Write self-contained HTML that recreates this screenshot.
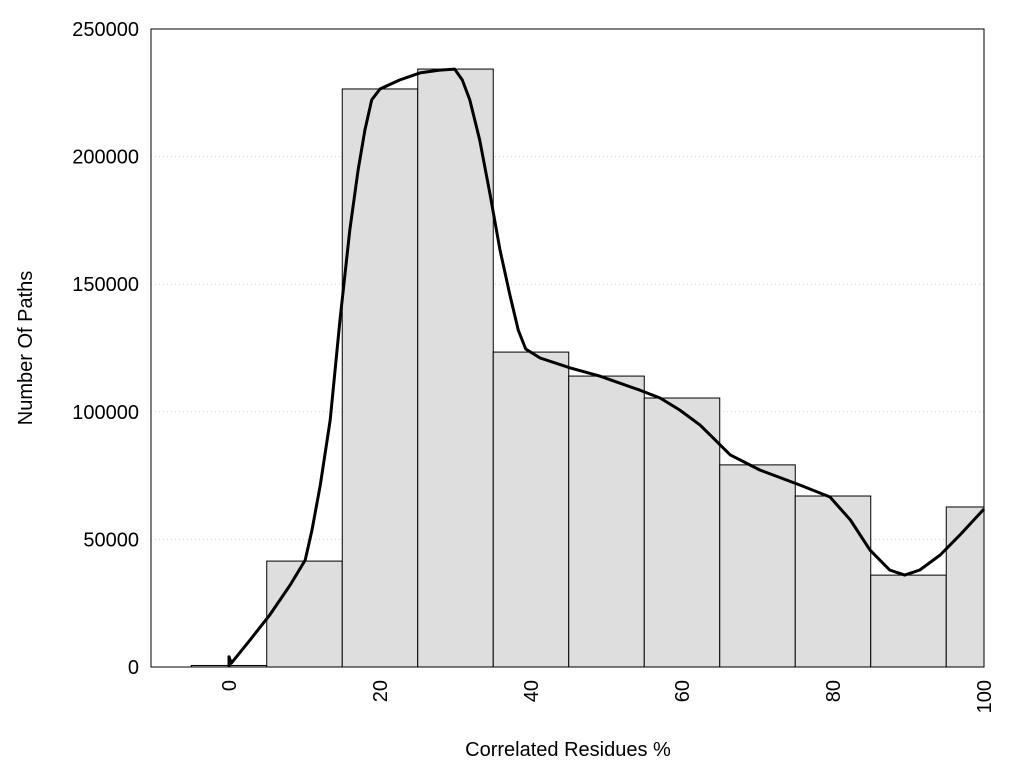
<!DOCTYPE html>
<html><head><meta charset="utf-8"><style>
body{margin:0;background:#fff;}
svg text{font-family:"Liberation Sans",Arial,sans-serif;fill:#000;}
</style></head><body>
<svg id="chart" width="1024" height="768" xmlns="http://www.w3.org/2000/svg">
<g id="grid"></g>
<g id="bars"></g>
<g id="curve"></g>
<rect x="151" y="29" width="833" height="638" fill="none" stroke="#000" stroke-width="1"/>
<g id="yticks"></g>
<g id="xticks"></g>
<text x="568" y="756" text-anchor="middle" font-size="20">Correlated Residues %</text>
<text transform="translate(32,348) rotate(-90)" text-anchor="middle" font-size="20">Number Of Paths</text>
</svg>
<script>
const binCenters=[0,10,20,30,40,50,60,70,80,90,100];
const binCounts=[600,41500,226500,234300,123400,114000,105400,79200,67000,36000,62700];
const curveX=[0,0,0.3,2.8,5.4,8.1,10.1,11,12.1,13.4,14.7,16,17.1,18,18.9,20,22.6,25.3,27.9,29.9,30.9,31.9,33.2,34.6,35.9,37.2,38.3,39.3,41.2,45.2,49.1,54.4,57.1,59.7,62.4,66.4,70.3,75.6,79.6,82.3,84.9,87.5,89.5,91.5,94.2,96.8,100];
const curveY=[0,4000,1500,10600,20400,32100,41900,53700,71300,96800,136000,171200,194700,210400,222200,226500,230000,232800,233900,234300,230000,222200,206500,184900,163400,145800,132100,124600,121100,117200,114000,108500,105400,100700,94800,83100,77200,71300,66600,57600,45800,38000,36000,38000,43900,51700,61900];
const yTicks=[0,50000,100000,150000,200000,250000];
const xTicks=[0,20,40,60,80,100];
const binWidth=10;
const X0=151,X1=984,Y0=667,Y1=29,xmin=-10.33,xmax=100,ymax=250000;
const sx=v=>X0+(v-xmin)/(xmax-xmin)*(X1-X0);
const sy=v=>Y0-v/ymax*(Y0-Y1);
const NS="http://www.w3.org/2000/svg";
function mk(t,parent){const e=document.createElementNS(NS,t);document.getElementById(parent).appendChild(e);return e;}
yTicks.forEach(v=>{
 if(v>0&&v<ymax){const l=mk('line','grid');
 
 
 l.setAttribute('x1',X0);l.setAttribute('x2',X1);l.setAttribute('y1',sy(v));l.setAttribute('y2',sy(v));
 l.setAttribute('stroke','#ccc');l.setAttribute('stroke-dasharray','1,3');}
 const t=mk('text','yticks');
 
 
 t.setAttribute('x',139);t.setAttribute('y',sy(v)+7);t.setAttribute('text-anchor','end');t.setAttribute('font-size','20');t.textContent=v;
});
binCenters.forEach((c,i)=>{
 const l=Math.max(sx(c-binWidth/2),X0),r=Math.min(sx(c+binWidth/2),X1);
 const b=mk('rect','bars');
 
 
 b.setAttribute('x',l);b.setAttribute('width',r-l);b.setAttribute('y',sy(binCounts[i]));b.setAttribute('height',Y0-sy(binCounts[i]));
 b.setAttribute('fill','#dedede');b.setAttribute('stroke','#000');b.setAttribute('stroke-width','1');
});
const p=mk('path','curve');


p.setAttribute('d',curveX.map((x,i)=>(i?'L':'M')+sx(x).toFixed(1)+','+sy(curveY[i]).toFixed(1)).join(''));
p.setAttribute('fill','none');p.setAttribute('stroke','#000');p.setAttribute('stroke-width','3');p.setAttribute('stroke-linejoin','round');
xTicks.forEach(v=>{
 const t=mk('text','xticks');
 
 
 t.setAttribute('transform','translate('+(sx(v)+7)+',680) rotate(-90)');t.setAttribute('text-anchor','end');t.setAttribute('font-size','20');t.textContent=v;
});
</script>
</body></html>
